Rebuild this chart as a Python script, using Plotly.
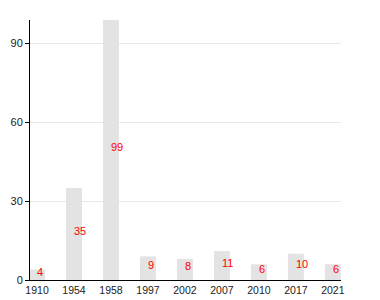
import plotly.graph_objects as go

years = ["1910", "1954", "1958", "1997", "2002", "2007", "2010", "2017", "2021"]
values = [4, 35, 99, 9, 8, 11, 6, 10, 6]

xs = list(range(len(years)))

fig = go.Figure()
fig.add_trace(go.Bar(
    x=xs, y=values, width=0.43,
    marker=dict(color="#e3e3e3", line=dict(width=0)),
    hoverinfo="skip",
))

for i, v in zip(xs, values):
    fig.add_annotation(
        x=i, y=v / 2, text=str(v), showarrow=False,
        xanchor="left", yanchor="middle", xshift=-2, yshift=3,
        font=dict(color="#ff0000", size=11, family="Liberation Sans, Arial"),
    )

fig.update_layout(
    width=380, height=300,
    margin=dict(l=30, r=39, t=20, b=20, autoexpand=False),
    paper_bgcolor="white", plot_bgcolor="white",
    showlegend=False,
    font=dict(family="Liberation Sans, Arial", size=11, color="#222"),
    xaxis=dict(
        range=[-0.19, 8.22], tickmode="array", tickvals=xs, ticktext=years,
        showgrid=False, zeroline=False, showline=True, linecolor="black",
        linewidth=1, ticks="", tickfont=dict(size=10.5), automargin=False,
    ),
    yaxis=dict(
        range=[0, 99], tickvals=[0, 30, 60, 90], automargin=False,
        showgrid=True, gridcolor="#e8e8e8", gridwidth=1,
        zeroline=False, showline=True, linecolor="black", linewidth=1,
        ticks="outside", ticklen=4, tickcolor="black",
    ),
)

fig.write_html("out.html")
